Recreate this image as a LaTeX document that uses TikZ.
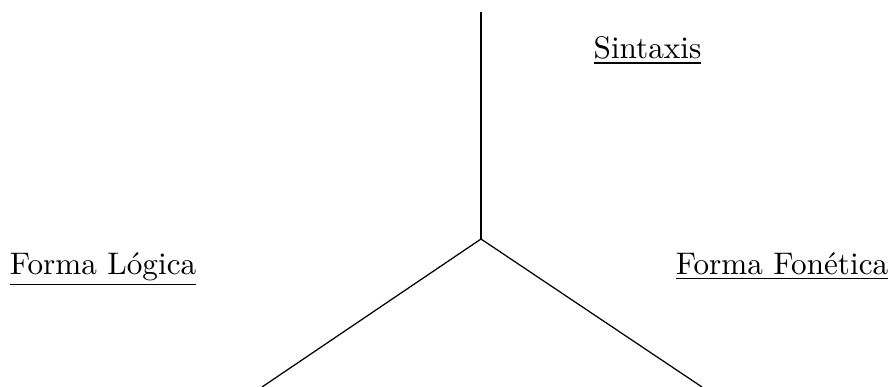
\documentclass[tikz,border=0pt]{standalone}
\begin{document}
\begin{tikzpicture}[x=0.3205pt,y=-0.3205pt,
  lbl/.style={anchor=base,inner sep=0pt},
  branch/.style={draw=black,line width=0.4pt}]
\useasboundingbox (0,0) rectangle (890,387);
\coordinate (top) at (481,12);
\coordinate (c) at (481,239);
\coordinate (l) at (262,387);
\coordinate (r) at (702,387);
\draw[branch] (top) -- (c);
\draw[branch] (c) -- (l);
\draw[branch] (c) -- (r);
\node[lbl] (sin) at (647.5,58) {\underline{Sintaxis}};
\node[lbl] (fl) at (103,274) {\underline{Forma Lógica}};
\node[lbl] (ff) at (782,274) {\underline{Forma Fonética}};
\end{tikzpicture}
\end{document}
